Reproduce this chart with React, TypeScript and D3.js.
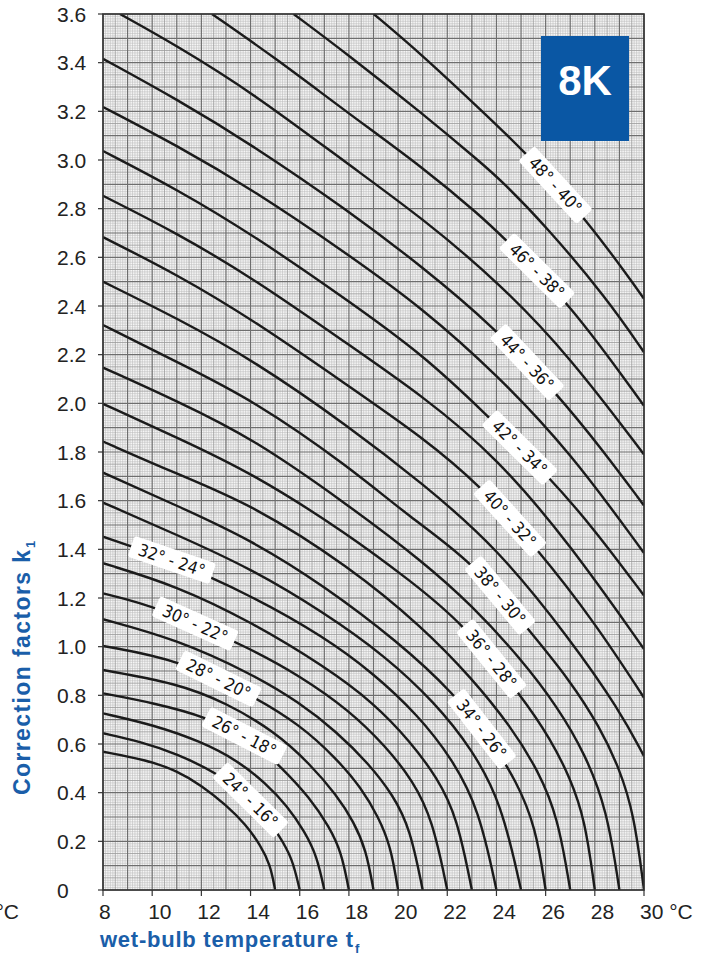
import React from 'react';
import * as d3 from 'd3';

// axis ticks
const xTicks = [8, 10, 12, 14, 16, 18, 20, 22, 24, 26, 28, 30];
const xTickLabels = ['8', '10', '12', '14', '16', '18', '20', '22', '24', '26', '28', '30 °C'];
const yTicks = [0, 0.2, 0.4, 0.6, 0.8, 1.0, 1.2, 1.4, 1.6, 1.8, 2.0, 2.2, 2.4, 2.6, 2.8, 3.0, 3.2, 3.4, 3.6];
const yTickLabels = ['0', '0.2', '0.4', '0.6', '0.8', '1.0', '1.2', '1.4', '1.6', '1.8', '2.0', '2.2', '2.4', '2.6', '2.8', '3.0', '3.2', '3.4', '3.6'];

// one curve per water temperature pair (hot-cold), points are [wet-bulb °C, k1]
const c23 = [[8, 0.568], [9.8, 0.534], [11, 0.49], [12, 0.43], [13, 0.35], [13.8, 0.27], [14.4, 0.185], [14.8, 0.105], [15, 0]];
const c24 = [[8, 0.644], [9.5, 0.61], [11, 0.56], [12.64, 0.48], [13.7, 0.4], [14.5, 0.32], [15.2, 0.218], [15.7, 0.13], [16, 0]];
const c25 = [[8, 0.726], [10, 0.68], [12, 0.61], [13.5, 0.53], [14.6, 0.44], [15.5, 0.345], [16.2, 0.24], [16.7, 0.14], [17, 0]];
const c26 = [[8, 0.808], [10, 0.77], [12.24, 0.711], [14, 0.62], [15.3, 0.5], [16.4, 0.38], [17.2, 0.26], [17.7, 0.155], [18, 0]];
const c27 = [[8, 0.904], [11, 0.85], [13, 0.77], [15, 0.65], [16.4, 0.52], [17.5, 0.39], [18.2, 0.28], [18.7, 0.165], [19, 0]];
const c28 = [[8, 1.003], [11.14, 0.945], [14.07, 0.8], [16, 0.68], [17.5, 0.54], [18.5, 0.42], [19.2, 0.3], [19.7, 0.18], [20, 0]];
const c29 = [[8, 1.113], [11, 1.03], [14, 0.891], [16, 0.77], [17.5, 0.65], [18.8, 0.52], [19.8, 0.39], [20.5, 0.25], [21, 0]];
const c30 = [[8, 1.219], [10.2, 1.165], [14, 0.993], [16, 0.88], [18, 0.74], [19.5, 0.59], [20.6, 0.45], [21.4, 0.29], [22, 0]];
const c31 = [[8, 1.343], [11, 1.25], [14, 1.103], [17, 0.92], [19, 0.77], [20.5, 0.61], [21.6, 0.46], [22.4, 0.3], [23, 0]];
const c32 = [[8, 1.452], [10.8, 1.356], [14, 1.212], [17, 1.04], [19, 0.89], [20.8, 0.72], [22.2, 0.54], [23.3, 0.33], [24, 0]];
const c33 = [[8, 1.592], [11, 1.46], [14, 1.322], [17, 1.14], [19.5, 0.96], [21.5, 0.77], [23, 0.58], [24.2, 0.36], [25, 0]];
const c34 = [[8, 1.715], [11, 1.58], [14, 1.44], [17, 1.25], [20, 1.02], [22.26, 0.81], [23.8, 0.61], [24.8, 0.45], [25.6, 0.26], [26, 0]];
const c35 = [[8, 1.843], [11, 1.71], [14.1, 1.582], [18, 1.33], [21, 1.08], [23, 0.87], [24.6, 0.67], [25.7, 0.49], [26.5, 0.3], [27, 0]];
const c36 = [[8, 1.998], [11, 1.86], [14.1, 1.712], [18, 1.46], [20.5, 1.27], [22.6, 1.1], [25.05, 0.794], [26.2, 0.62], [27, 0.46], [27.6, 0.29], [28, 0]];
const c37 = [[8, 2.147], [11, 2.01], [14.1, 1.856], [18, 1.58], [21, 1.35], [23, 1.17], [25, 0.95], [26.5, 0.75], [27.6, 0.56], [28.5, 0.33], [29, 0]];
const c38 = [[8, 2.322], [11, 2.17], [14.1, 2.014], [18, 1.74], [20.5, 1.53], [22.95, 1.356], [25.26, 1.076], [27, 0.86], [28.2, 0.67], [29, 0.5], [29.6, 0.31], [30, 0]];
const c39 = [[8, 2.5], [11, 2.35], [14.1, 2.178], [18, 1.905], [21, 1.67], [24, 1.41], [27, 1.03], [29, 0.74], [30, 0.55]];
const c40 = [[8, 2.683], [11, 2.53], [14.1, 2.343], [18, 2.07], [21, 1.86], [23.36, 1.66], [25.6, 1.41], [28, 1.1], [30, 0.79]];
const c41 = [[8, 2.853], [11, 2.7], [14.1, 2.514], [18, 2.24], [21, 2.03], [24, 1.78], [27, 1.42], [30, 0.99]];
const c42 = [[8, 3.037], [11, 2.88], [14.1, 2.692], [18, 2.42], [21, 2.2], [23.48, 1.965], [26.13, 1.7], [28, 1.48], [30, 1.21]];
const c43 = [[8, 3.218], [11, 3.06], [14.1, 2.877], [18, 2.61], [21, 2.39], [24, 2.12], [27, 1.8], [30, 1.385]];
const c44 = [[8, 3.416], [11, 3.25], [14.1, 3.06], [18, 2.79], [21, 2.56], [23.9, 2.314], [26.5, 2.035], [28.3, 1.81], [30, 1.58]];
const c45 = [[8.69, 3.6], [11, 3.47], [14.1, 3.275], [18, 2.98], [21, 2.76], [24.17, 2.49], [27, 2.19], [30, 1.79]];
const c46 = [[12.43, 3.6], [15, 3.42], [18, 3.19], [21, 2.97], [23.36, 2.77], [24.3, 2.68], [27, 2.41], [30, 1.99]];
const c47 = [[15.75, 3.6], [18, 3.43], [21, 3.19], [23.36, 2.99], [24.17, 2.918], [26, 2.73], [28.5, 2.43], [30, 2.21]];
const c48 = [[19.01, 3.6], [21, 3.43], [23.36, 3.206], [25.1, 3.04], [27.7, 2.754], [30, 2.43]];

const curves = [c23, c24, c25, c26, c27, c28, c29, c30, c31, c32, c33, c34, c35, c36, c37, c38,
  c39, c40, c41, c42, c43, c44, c45, c46, c47, c48];

// curve labels: which curve, its text and where along the wet-bulb axis it sits
const labelCurves = [c48, c46, c44, c42, c40, c38, c36, c34, c32, c30, c28, c26, c24];
const labelTexts = ['48° - 40°', '46° - 38°', '44° - 36°', '42° - 34°', '40° - 32°', '38° - 30°', '36° - 28°',
  '34° - 26°', '32° - 24°', '30° - 22°', '28° - 20°', '26° - 18°', '24° - 16°'];
const labelAt = [26.4, 25.65, 25.25, 24.95, 24.55, 24.15, 23.8, 23.4, 10.8, 11.75, 12.7, 13.75, 14.0];

const BLUE = '#1a5ea9';
const FONT = '"Liberation Sans", Arial, Helvetica, sans-serif';

const x = d3.scaleLinear().domain([8, 30]).range([103, 644]);
const y = d3.scaleLinear().domain([0, 3.6]).range([890, 14]);

const line = d3.line<number[]>()
  .x(d => x(d[0]))
  .y(d => y(d[1]))
  .curve(d3.curveBasis);

// position and angle of a label on its curve
function placeOn(pts: number[][], xv: number) {
  let i = 0;
  while (i < pts.length - 2 && pts[i + 1][0] < xv) i++;
  const a = pts[i], b = pts[i + 1];
  const t = (xv - a[0]) / (b[0] - a[0]);
  const yv = a[1] + t * (b[1] - a[1]);
  const ang = Math.atan2(y(b[1]) - y(a[1]), x(b[0]) - x(a[0])) * 180 / Math.PI;
  return { px: x(xv), py: y(yv), ang };
}

const App = () => {
  const [x0, x1] = x.range();
  const [y0, y1] = y.range();

  // mm-paper grid: 0.1 °C by 0.01 steps
  const vLines = d3.range(0, 221).map(i => ({ v: 8 + i * 0.1, k: i % 10 === 0 ? 2 : i % 5 === 0 ? 1 : 0 }));
  const hLines = d3.range(0, 361).map(i => ({ v: i * 0.01, k: i % 10 === 0 ? 2 : i % 5 === 0 ? 1 : 0 }));
  const gStroke = ['#bcbcbc', '#9a9a9a', '#6e6e6e'];
  const gWidth = [0.55, 0.8, 1.2];

  return (
    <svg width={716} height={956} style={{ position: 'absolute', left: 0, top: 0, background: '#fff' }}>
      <defs>
        <clipPath id="plot">
          <rect x={x0} y={y1} width={x1 - x0} height={y0 - y1} />
        </clipPath>
      </defs>

      <rect x={x0} y={y1} width={x1 - x0} height={y0 - y1} fill="#f6f6f6" />
      {[0, 1, 2].map(level => (
        <g key={level} stroke={gStroke[level]} strokeWidth={gWidth[level]}>
          {vLines.filter(d => d.k === level).map((d, i) => (
            <line key={'v' + i} x1={x(d.v)} x2={x(d.v)} y1={y1} y2={y0} />
          ))}
          {hLines.filter(d => d.k === level).map((d, i) => (
            <line key={'h' + i} x1={x0} x2={x1} y1={y(d.v)} y2={y(d.v)} />
          ))}
        </g>
      ))}

      <g clipPath="url(#plot)" fill="none" stroke="#1b1b1b" strokeWidth={2.4}>
        {curves.map((c, i) => <path key={i} d={line(c) || ''} />)}
      </g>

      {labelCurves.map((c, i) => {
        const p = placeOn(c, labelAt[i]);
        return (
          <g key={i} transform={`translate(${p.px},${p.py}) rotate(${p.ang})`}>
            <rect x={-43} y={-11} width={86} height={22} rx={3} fill="#fff" />
            <text textAnchor="middle" dy="0.36em" fontSize={17}
              style={{ fontFamily: '"DejaVu Sans", sans-serif', fontStretch: 'condensed' }} fill="#111">
              {labelTexts[i]}
            </text>
          </g>
        );
      })}

      <rect x={x0} y={y1} width={x1 - x0} height={y0 - y1} fill="none" stroke="#333" strokeWidth={1.6} />

      {yTicks.map((t, i) => (
        <g key={'y' + i}>
          <line x1={x0 - 5} x2={x0} y1={y(t)} y2={y(t)} stroke="#333" strokeWidth={1.2} />
          <text x={57} y={y(t) + 7.5} fontSize={21} fill="#222" style={{ fontFamily: FONT }}>{yTickLabels[i]}</text>
        </g>
      ))}
      {xTicks.map((t, i) => (
        <g key={'x' + i}>
          <line x1={x(t)} x2={x(t)} y1={y0} y2={y0 + 6} stroke="#333" strokeWidth={1.2} />
          <text x={x(t) - 4} y={919} fontSize={21} fill="#222" style={{ fontFamily: FONT }}>{xTickLabels[i]}</text>
        </g>
      ))}
      <text x={19} y={919} textAnchor="end" fontSize={21} fill="#222" style={{ fontFamily: FONT }}>°C</text>

      <text x={100} y={947} fontSize={22} fontWeight="bold" fill={BLUE} textLength={253} lengthAdjust="spacing"
        style={{ fontFamily: FONT }}>wet-bulb temperature t</text>
      <text x={355} y={953} fontSize={13} fontWeight="bold" fill={BLUE} style={{ fontFamily: FONT }}>f</text>

      <g transform="translate(30,795) rotate(-90)">
        <text x={0} y={0} fontSize={23} fontWeight="bold" fill={BLUE} textLength={245} lengthAdjust="spacing"
          style={{ fontFamily: FONT }}>Correction factors k</text>
        <text x={247} y={5} fontSize={13} fontWeight="bold" fill={BLUE} style={{ fontFamily: FONT }}>1</text>
      </g>

      <rect x={541} y={36} width={88} height={105} fill="#0a57a4" />
      <text x={585} y={95} textAnchor="middle" fontSize={42} fontWeight="bold" fill="#fff"
        style={{ fontFamily: FONT }}>8K</text>
    </svg>
  );
};

export default App;
